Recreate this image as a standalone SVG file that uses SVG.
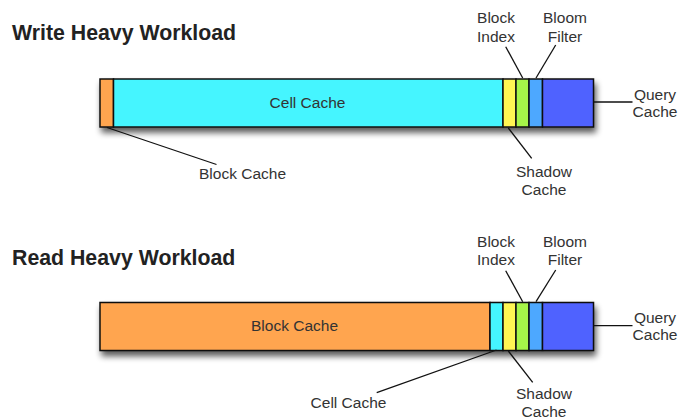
<svg xmlns="http://www.w3.org/2000/svg" width="694" height="420" viewBox="0 0 694 420">
  <style>
    .title { font-family: "Liberation Sans", Arial, sans-serif; font-weight: bold; font-size: 21.3px; fill: #222; }
    .lbl { font-family: "Liberation Sans", Arial, sans-serif; font-size: 15.5px; fill: #333; text-anchor: middle; }
    .seg { stroke: #111; stroke-width: 1.5; }
    .lead { stroke: #111; stroke-width: 1.3; fill: none; }
    .orange { fill: #FFA54F; }
    .cyan { fill: #44F5FF; }
    .yellow { fill: #FFF552; }
    .green { fill: #A6F54A; }
    .blue { fill: #4DA8FF; }
    .purple { fill: #5062FF; }
  </style>
  <defs>
    <filter id="shadow" x="-5%" y="-30%" width="115%" height="190%">
      <feGaussianBlur in="SourceAlpha" stdDeviation="3.2"/>
      <feOffset dx="2" dy="5" result="b"/>
      <feComponentTransfer><feFuncA type="linear" slope="0.65"/></feComponentTransfer>
      <feMerge><feMergeNode/><feMergeNode in="SourceGraphic"/></feMerge>
    </filter>
  </defs>
  <rect width="694" height="420" fill="#fff"/>

  <!-- Write heavy workload -->
  <text class="title" x="12" y="39.5">Write Heavy Workload</text>
  <g id="write-bar" filter="url(#shadow)">
    <rect class="seg orange" x="100" y="79" width="13.5" height="48"/>
    <rect class="seg cyan" x="113.5" y="79" width="389.5" height="48"/>
    <rect class="seg yellow" x="503" y="79" width="13" height="48"/>
    <rect class="seg green" x="516" y="79" width="13" height="48"/>
    <rect class="seg blue" x="529" y="79" width="13.5" height="48"/>
    <rect class="seg purple" x="542.5" y="79" width="51" height="48"/>
  </g>
  <g id="write-cell-cache"><text class="lbl" x="307.5" y="108">Cell Cache</text></g>
  <g id="write-block-cache"><text class="lbl" x="242.5" y="178.5">Block Cache</text></g>
  <g id="write-block-index"><text class="lbl" x="496" y="22.7">Block</text><text class="lbl" x="496" y="41.7">Index</text></g>
  <g id="write-bloom-filter"><text class="lbl" x="565" y="22.7">Bloom</text><text class="lbl" x="565" y="41.7">Filter</text></g>
  <g id="write-query-cache"><text class="lbl" x="655" y="100">Query</text><text class="lbl" x="655" y="116.7">Cache</text></g>
  <g id="write-shadow-cache"><text class="lbl" x="544" y="176.7">Shadow</text><text class="lbl" x="544" y="195">Cache</text></g>

  <!-- Read heavy workload -->
  <text class="title" x="12" y="265">Read Heavy Workload</text>
  <g id="read-bar" filter="url(#shadow)">
    <rect class="seg orange" x="100" y="302.5" width="390" height="48"/>
    <rect class="seg cyan" x="490" y="302.5" width="13" height="48"/>
    <rect class="seg yellow" x="503" y="302.5" width="13" height="48"/>
    <rect class="seg green" x="516" y="302.5" width="13" height="48"/>
    <rect class="seg blue" x="529" y="302.5" width="13.5" height="48"/>
    <rect class="seg purple" x="542.5" y="302.5" width="51" height="48"/>
  </g>
  <g id="read-block-cache"><text class="lbl" x="294.5" y="330.5">Block Cache</text></g>
  <g id="read-cell-cache"><text class="lbl" x="348.5" y="408">Cell Cache</text></g>
  <g id="read-block-index"><text class="lbl" x="496" y="246.7">Block</text><text class="lbl" x="496" y="265">Index</text></g>
  <g id="read-bloom-filter"><text class="lbl" x="565" y="246.7">Bloom</text><text class="lbl" x="565" y="265">Filter</text></g>
  <g id="read-query-cache"><text class="lbl" x="655" y="322.7">Query</text><text class="lbl" x="655" y="340">Cache</text></g>
  <g id="read-shadow-cache"><text class="lbl" x="544" y="399">Shadow</text><text class="lbl" x="544" y="416.7">Cache</text></g>

  <!-- leader lines -->
  <g id="connectors" class="lead">
    <line class="lead" x1="107" y1="127.5" x2="216.5" y2="164.5"/>
    <line class="lead" x1="505.7" y1="46.7" x2="522.7" y2="78"/>
    <line class="lead" x1="555.7" y1="45" x2="536" y2="78"/>
    <line class="lead" x1="593.5" y1="102" x2="632.5" y2="102"/>
    <line class="lead" x1="508.3" y1="128" x2="531.7" y2="158.3"/>

    <line class="lead" x1="496.5" y1="350" x2="376.7" y2="392.7"/>
    <line class="lead" x1="505.7" y1="270.7" x2="522.7" y2="301.7"/>
    <line class="lead" x1="555.7" y1="270" x2="536" y2="301.7"/>
    <line class="lead" x1="593.5" y1="325.7" x2="632.5" y2="325.7"/>
    <line class="lead" x1="508.3" y1="351" x2="532.7" y2="382.3"/>
  </g>
</svg>
